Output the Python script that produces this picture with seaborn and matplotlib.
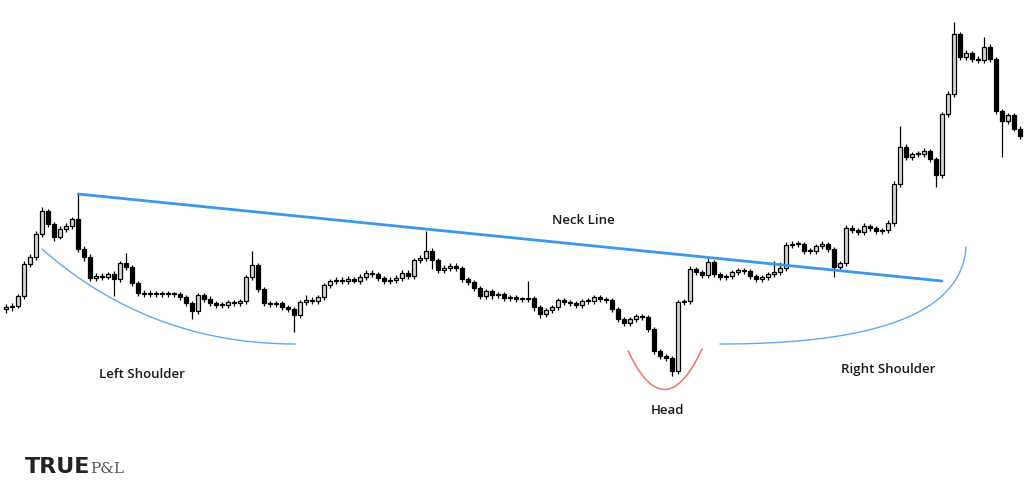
import numpy as np
import pandas as pd
import matplotlib
matplotlib.use("Agg")
import matplotlib.pyplot as plt
import seaborn as sns

# candle data (one candle per step), price units
opens = [190, 192, 193, 203, 235, 242, 265, 288, 275, 262, 270, 273, 280, 250, 242, 221, 223, 222, 225, 220,
         236, 232, 216, 206, 205, 206, 205, 205, 205, 205, 202, 196, 188, 204, 200, 196, 194, 194, 197, 196,
         198, 222, 234, 210, 196, 195, 196, 192, 190, 184, 197, 199, 198, 202, 214, 218, 219, 218, 220, 218,
         222, 226, 225, 221, 218, 219, 221, 226, 223, 239, 241, 248, 239, 229, 231, 233, 231, 220, 217, 211,
         203, 208, 204, 205, 201, 202, 200, 200, 201, 192, 185, 189, 192, 199, 197, 196, 194, 198, 198, 202,
         200, 199, 190, 180, 176, 180, 183, 182, 170, 148, 143, 141, 128, 197, 198, 230, 227, 224, 237, 225,
         222, 223, 227, 229, 228, 223, 220, 222, 225, 227, 231, 254, 255, 255, 248, 248, 253, 255, 250, 232,
         236, 271, 269, 267, 273, 271, 268, 269, 276, 315, 352, 342, 345, 345, 348, 340, 324, 385, 405, 465,
         442, 446, 440, 439, 452, 440, 388, 378, 384, 370]
closes = [192, 193, 203, 235, 242, 265, 288, 275, 262, 270, 273, 280, 250, 242, 221, 223, 222, 225, 220, 236,
          232, 216, 206, 205, 206, 205, 205, 205, 205, 202, 196, 188, 204, 200, 196, 194, 194, 197, 196, 198,
          222, 234, 210, 196, 195, 196, 192, 190, 184, 197, 199, 198, 202, 214, 218, 219, 218, 220, 218, 222,
          226, 225, 221, 218, 219, 221, 226, 223, 239, 241, 248, 239, 229, 231, 233, 231, 220, 217, 211, 203,
          208, 204, 205, 201, 202, 200, 200, 201, 192, 185, 189, 192, 199, 197, 196, 194, 198, 198, 202, 200,
          199, 190, 180, 176, 180, 183, 182, 170, 148, 143, 141, 128, 197, 198, 230, 227, 224, 237, 225, 222,
          223, 227, 229, 228, 223, 220, 222, 225, 227, 231, 254, 255, 255, 248, 248, 253, 255, 250, 232, 236,
          271, 269, 267, 273, 271, 268, 269, 276, 315, 352, 342, 345, 345, 348, 340, 324, 385, 405, 465, 442,
          446, 440, 439, 452, 440, 388, 378, 384, 370, 363]
highs = [195, 196, 205, 238, 245, 268, 292, 290, 277, 273, 276, 282, 305, 253, 245, 226, 226, 227, 228, 238,
         246, 234, 218, 209, 209, 208, 208, 208, 207, 207, 204, 198, 206, 206, 203, 198, 197, 199, 199, 200,
         224, 248, 236, 212, 198, 198, 198, 194, 192, 199, 204, 202, 204, 216, 220, 222, 222, 223, 222, 225,
         229, 229, 227, 223, 222, 224, 229, 229, 241, 244, 268, 251, 241, 234, 236, 236, 233, 222, 219, 213,
         210, 210, 207, 207, 204, 204, 202, 218, 203, 194, 191, 194, 201, 201, 199, 198, 200, 201, 204, 204,
         202, 201, 192, 182, 182, 185, 185, 184, 172, 150, 145, 143, 199, 200, 233, 232, 229, 242, 239, 227,
         225, 229, 231, 231, 230, 225, 224, 227, 238, 237, 257, 258, 258, 257, 251, 255, 258, 257, 252, 238,
         274, 274, 271, 276, 275, 273, 271, 279, 318, 373, 355, 347, 348, 351, 350, 342, 387, 408, 477, 467,
         449, 448, 443, 462, 455, 442, 390, 386, 386, 373]
lows = [186, 188, 191, 200, 232, 239, 262, 272, 258, 260, 267, 270, 247, 238, 218, 218, 219, 220, 203, 217,
        229, 213, 203, 202, 202, 202, 202, 202, 202, 199, 193, 180, 185, 197, 193, 191, 191, 191, 193, 193,
        195, 219, 207, 193, 192, 192, 189, 187, 167, 181, 194, 195, 195, 199, 211, 215, 215, 215, 216, 215,
        219, 222, 218, 215, 215, 216, 218, 220, 220, 236, 238, 230, 226, 226, 228, 228, 217, 214, 208, 200,
        200, 200, 201, 198, 198, 197, 197, 197, 188, 181, 182, 186, 189, 194, 193, 191, 191, 195, 195, 197,
        196, 187, 177, 173, 173, 177, 179, 167, 145, 140, 138, 123, 125, 194, 195, 224, 221, 221, 222, 219,
        219, 220, 224, 225, 220, 217, 217, 219, 222, 224, 228, 251, 252, 245, 245, 245, 250, 247, 222, 229,
        233, 266, 264, 264, 268, 265, 265, 266, 273, 312, 339, 339, 342, 342, 337, 312, 321, 382, 402, 439,
        439, 437, 436, 436, 437, 385, 342, 375, 368, 360]

# neckline and pattern curves (candle index, price)
neck_x = [12, 156]
neck_y = [305, 218]
left_shoulder_pts = [(6, 250), (24, 155), (48.2, 155)]
right_shoulder_pts = [(119, 155), (159, 155), (160, 252)]
head_pts = [(103.7, 148), (109.8, 70), (116, 150)]

labels = ["Neck Line", "Left Shoulder", "Head", "Right Shoulder"]
label_pos = [(96.2, 279), (22.7, 125), (110.2, 89), (147, 130)]


def bezier(pts, n=80):
    t = np.linspace(0, 1, n)
    (x0, y0), (x1, y1), (x2, y2) = pts
    x = (1 - t) ** 2 * x0 + 2 * (1 - t) * t * x1 + t ** 2 * x2
    y = (1 - t) ** 2 * y0 + 2 * (1 - t) * t * y1 + t ** 2 * y2
    return pd.DataFrame({"x": x, "y": y})


sns.set_theme(style="white")
plt.rcParams['font.family'] = ['Open Sans', 'DejaVu Sans']

df = pd.DataFrame({"open": opens, "high": highs, "low": lows, "close": closes})
df["idx"] = np.arange(len(df))
up = df["close"] >= df["open"]

fig, ax = plt.subplots(figsize=(10.24, 5.02), dpi=100)
ax.set_position([0, 0, 1, 1])

# wicks
ax.vlines(df["idx"], df["low"], df["high"], color="black", linewidth=0.9, zorder=2)
# bodies
body_bottom = np.minimum(df["open"], df["close"])
body_h = np.maximum(np.abs(df["close"] - df["open"]), 1.5)
ax.bar(df["idx"][up], body_h[up], bottom=body_bottom[up], width=0.6,
       color="#d8d8d8", edgecolor="black", linewidth=0.9, zorder=3)
ax.bar(df["idx"][~up], body_h[~up], bottom=body_bottom[~up], width=0.6,
       color="black", edgecolor="black", linewidth=0.9, zorder=3)

# neck line
sns.lineplot(x=neck_x, y=neck_y, ax=ax, color="#3d98e8", linewidth=2, zorder=4)

# shoulders and head
for pts, col, lw in [(left_shoulder_pts, "#5eaaf0", 1.0),
                     (right_shoulder_pts, "#5eaaf0", 1.0),
                     (head_pts, "#f0716a", 1.1)]:
    c = bezier(pts)
    sns.lineplot(data=c, x="x", y="y", ax=ax, color=col, linewidth=lw, sort=False, zorder=4)

for lab, (lx, ly) in zip(labels, label_pos):
    ax.text(lx, ly, lab, ha="center", va="center", fontsize=9.5, fontweight="semibold", color="#1a1a1a")

# logo
fig.text(25 / 1024, 1 - 467 / 502, "TRUE", fontsize=16, fontweight="heavy",
         family=["DejaVu Sans"], color="#222222", va="center", ha="left")
fig.text(90 / 1024, 1 - 469 / 502, "P&L", fontsize=11, family=["DejaVu Serif"],
         color="#555555", va="center", ha="left")

ax.set_xlim(-1, 169.67)
ax.set_ylim(-2, 500)
ax.axis("off")

plt.savefig("out.png", dpi=100)
plt.close()
